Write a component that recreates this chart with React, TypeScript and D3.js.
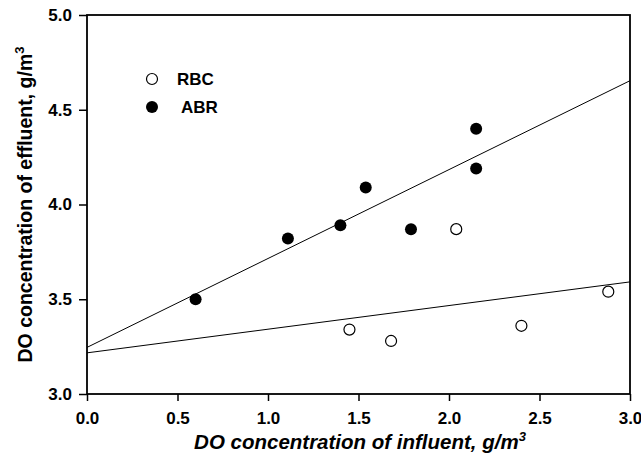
import React, { useEffect, useRef } from "react";
import * as d3 from "d3";

// influent DO (x) vs effluent DO (y)
const rbcX = [1.45, 1.68, 2.04, 2.40, 2.88];
const rbcY = [3.34, 3.28, 3.87, 3.36, 3.54];
const abrX = [0.6, 1.11, 1.40, 1.54, 1.79, 2.15, 2.15];
const abrY = [3.5, 3.82, 3.89, 4.09, 3.87, 4.40, 4.19];

const xTicks = [0, 0.5, 1.0, 1.5, 2.0, 2.5, 3.0];
const yTicks = [3.0, 3.5, 4.0, 4.5, 5.0];

const W = 641, H = 459;
const m = { left: 87, top: 15, right: 11, bottom: 65 };
const FONT = "'Liberation Sans', Arial, sans-serif";

function fit(xs: number[], ys: number[]) {
  const mx = d3.mean(xs)!, my = d3.mean(ys)!;
  let sxy = 0, sxx = 0;
  xs.forEach((x, i) => { sxy += (x - mx) * (ys[i] - my); sxx += (x - mx) * (x - mx); });
  const b = sxy / sxx;
  return { a: my - b * mx, b };
}

export default function App() {
  const ref = useRef<SVGSVGElement>(null);

  useEffect(() => {
    const svg = d3.select(ref.current);
    svg.selectAll("*").remove();

    const x = d3.scaleLinear().domain([0, 3]).range([m.left, W - m.right]);
    const y = d3.scaleLinear().domain([3, 5]).range([H - m.bottom, m.top]);

    const g = svg.append("g").attr("font-family", FONT);

    const xAxis = g.append("g").attr("transform", `translate(0,${H - m.bottom})`)
      .call(d3.axisBottom(x).tickValues(xTicks).tickFormat(d3.format(".1f")).tickSize(7).tickPadding(11));
    const yAxis = g.append("g").attr("transform", `translate(${m.left},0)`)
      .call(d3.axisLeft(y).tickValues(yTicks).tickFormat(d3.format(".1f")).tickSize(8).tickPadding(7));

    [xAxis, yAxis].forEach(a => {
      a.select(".domain").remove();
      a.selectAll(".tick line").attr("stroke", "#000").attr("stroke-width", 1.5);
      a.selectAll(".tick text").attr("font-size", 17).attr("font-weight", "bold").attr("fill", "#000")
        .attr("font-family", FONT);
    });

    g.append("rect")
      .attr("x", x(0)).attr("y", y(5))
      .attr("width", x(3) - x(0)).attr("height", y(3) - y(5))
      .attr("fill", "none").attr("stroke", "#000").attr("stroke-width", 1.8);

    // regression lines
    const line = d3.line<number>().x(d => x(d[0])).y(d => y(d[1]));
    [fit(abrX, abrY), fit(rbcX, rbcY)].forEach(f => {
      g.append("path")
        .attr("d", line([[0, f.a], [3, f.a + 3 * f.b]] as any))
        .attr("fill", "none").attr("stroke", "#000").attr("stroke-width", 1);
    });

    g.append("g").selectAll("circle").data(abrX).join("circle")
      .attr("cx", d => x(d)).attr("cy", (d, i) => y(abrY[i]))
      .attr("r", 6).attr("fill", "#000");

    g.append("g").selectAll("circle").data(rbcX).join("circle")
      .attr("cx", d => x(d)).attr("cy", (d, i) => y(rbcY[i]))
      .attr("r", 5.5).attr("fill", "#fff").attr("stroke", "#000").attr("stroke-width", 1.2);

    // legend
    const leg = g.append("g").attr("transform", "translate(152,79)");
    leg.append("circle").attr("r", 5.5).attr("fill", "#fff").attr("stroke", "#000").attr("stroke-width", 1.2);
    leg.append("circle").attr("cy", 28).attr("r", 6).attr("fill", "#000");
    leg.append("text").attr("x", 25).attr("y", 6).text("RBC")
      .attr("font-size", 17).attr("font-weight", "bold");
    leg.append("text").attr("x", 29).attr("y", 34).text("ABR")
      .attr("font-size", 17).attr("font-weight", "bold");

    // axis titles
    const xt = g.append("text").attr("x", 360).attr("y", 449)
      .attr("text-anchor", "middle").attr("font-size", 20.5).attr("font-weight", "bold")
      .attr("font-style", "italic");
    xt.append("tspan").text("DO concentration of influent, g/m");
    xt.append("tspan").attr("dy", -8).attr("font-size", 13).text("3");

    const yt = g.append("text")
      .attr("transform", `translate(32,${(y(3) + y(5)) / 2}) rotate(-90)`)
      .attr("text-anchor", "middle").attr("font-size", 19.5).attr("font-weight", "bold");
    yt.append("tspan").text("DO concentration of effluent, g/m");
    yt.append("tspan").attr("dy", -8).attr("font-size", 13).text("3");
  }, []);

  return (
    <svg ref={ref} width={W} height={H} style={{ position: "absolute", left: 0, top: 0, background: "#fff" }} />
  );
}
